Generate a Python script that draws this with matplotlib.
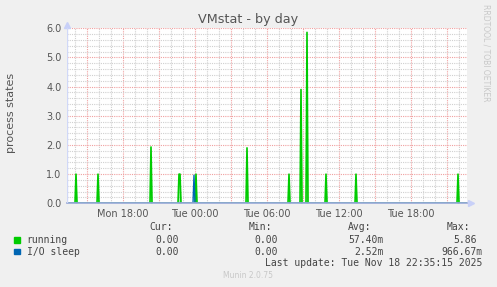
import numpy as np
import pandas as pd
import matplotlib
matplotlib.use("Agg")
import matplotlib.pyplot as plt
import matplotlib.dates as mdates
from matplotlib.ticker import MultipleLocator, FuncFormatter

# 5분 간격 샘플, 값이 0이 아닌 지점만 기록
run_times = ["2025-11-17 14:05", "2025-11-17 15:55", "2025-11-17 20:20",
             "2025-11-17 22:40", "2025-11-17 22:45", "2025-11-18 00:05",
             "2025-11-18 04:20", "2025-11-18 07:50", "2025-11-18 08:50",
             "2025-11-18 09:20", "2025-11-18 10:55", "2025-11-18 13:25",
             "2025-11-18 21:55"]
run_values = [1.0, 1.0, 1.93, 1.0, 1.0, 1.0, 1.9, 1.0, 3.9, 5.86, 1.0, 1.0, 1.0]

io_times = ["2025-11-17 23:55"]
io_values = [0.967]

legend_names = ["running", "I/O sleep"]
legend_colors = ["#00CC00", "#0066B3"]
cur_vals = ["0.00", "0.00"]
min_vals = ["0.00", "0.00"]
avg_vals = ["57.40m", "2.52m"]
max_vals = ["5.86", "966.67m"]

start = pd.Timestamp("2025-11-17 13:20")
end = pd.Timestamp("2025-11-18 22:40")
t = pd.date_range(start, end, freq="5min")


def series(times, values):
    s = pd.Series(0.0, index=t)
    for tm, v in zip(times, values):
        s[pd.Timestamp(tm)] = v
    return s


running = series(run_times, run_values)
iosleep = series(io_times, io_values)

W, H = 497, 287
fig = plt.figure(figsize=(W / 100, H / 100), dpi=100, facecolor="#F0F0F0")
ax = fig.add_axes([67 / W, (H - 203.3) / H, 400 / W, 175 / H])
ax.set_facecolor("white")

ax.plot(running.index, running.values, color="#00CC00", lw=1.2, zorder=3)
ax.fill_between(running.index, running.values, color="#00CC00", alpha=0.35, lw=0, zorder=2)
ax.plot(iosleep.index, iosleep.values, color="#0066B3", lw=1.0, zorder=4)

ax.set_xlim(start, end)
ax.set_ylim(0, 6.0)

# 격자: 작은 눈금 회색, 큰 눈금 빨간색 점선
ax.xaxis.set_major_locator(mdates.HourLocator(byhour=range(0, 24, 3)))
ax.xaxis.set_minor_locator(mdates.HourLocator())


def xfmt(x, pos):
    d = mdates.num2date(x)
    if d.hour % 6 == 0:
        return d.strftime("%a %H:%M")
    return ""


ax.xaxis.set_major_formatter(FuncFormatter(xfmt))
ax.yaxis.set_major_locator(MultipleLocator(1.0))
ax.yaxis.set_minor_locator(MultipleLocator(0.2))
ax.yaxis.set_major_formatter(FuncFormatter(lambda v, p: "%.1f" % v))

ax.grid(which="minor", color="#d0d0d0", linestyle=(0, (1, 1)), lw=0.8, zorder=1)
ax.grid(which="major", color="#f0a0a0", linestyle=(0, (1, 1)), lw=0.8, zorder=1)
ax.set_axisbelow(True)

ax.tick_params(which="both", length=0, labelsize=7, labelcolor="#555555", pad=4)
for s in ax.spines.values():
    s.set_visible(False)
ax.axhline(0, color="#98a8d8", lw=1.2, zorder=5, clip_on=False)
ax.axvline(start, color="#d0d8f8", lw=1.0, zorder=5)
ax.plot([0], [1.02], marker="^", ms=5, color="#c8d0f8", transform=ax.transAxes, clip_on=False)
ax.plot([1.01], [0], marker=">", ms=5, color="#c8d0f8", transform=ax.transAxes, clip_on=False)

fig.text(248.5 / W, 1 - 19 / H, "VMstat - by day", ha="center", va="center",
         fontsize=9.2, color="#555555")
fig.text(11 / W, 1 - 113 / H, "process states", ha="center", va="center",
         rotation=90, fontsize=8, color="#555555")
fig.text(486 / W, 1 - 53 / H, "RRDTOOL / TOBI OETIKER", ha="center", va="center",
         rotation=270, fontsize=5.5, color="#c8c8c8")

mono = "DejaVu Sans Mono"
tc = "#444444"
cols = [185, 284, 383.3, 482.7]
heads = ["Cur:", "Min:", "Avg:", "Max:"]
for x, h in zip([172.7, 272, 371, 470], heads):
    fig.text(x / W, 1 - 227.3 / H, h, ha="right", va="center", family=mono, fontsize=7, color=tc)

rows_y = [240, 251.7]
cw = 5.9
for i in range(len(legend_names)):
    y = 1 - rows_y[i] / H
    fig.patches.append(plt.Rectangle((14 / W, y - 2.6 / H), 6 / W, 5.5 / H,
                                     transform=fig.transFigure, color=legend_colors[i]))
    fig.text(26.7 / W, y, legend_names[i], ha="left", va="center", family=mono, fontsize=7, color=tc)
    for x, v in zip(cols, [cur_vals[i], min_vals[i], avg_vals[i], max_vals[i]]):
        xr = x if v[-1].isalpha() else x - cw
        fig.text(xr / W, y, v, ha="right", va="center", family=mono, fontsize=7, color=tc)

fig.text(482.7 / W, 1 - 263.3 / H, "Last update: Tue Nov 18 22:35:15 2025", ha="right",
         va="center", family=mono, fontsize=7, color=tc)
fig.text(247.7 / W, 1 - 276 / H, "Munin 2.0.75", ha="center", va="center",
         fontsize=5.5, color="#c8c8c8")

fig.savefig("out.png", dpi=100, facecolor=fig.get_facecolor())
